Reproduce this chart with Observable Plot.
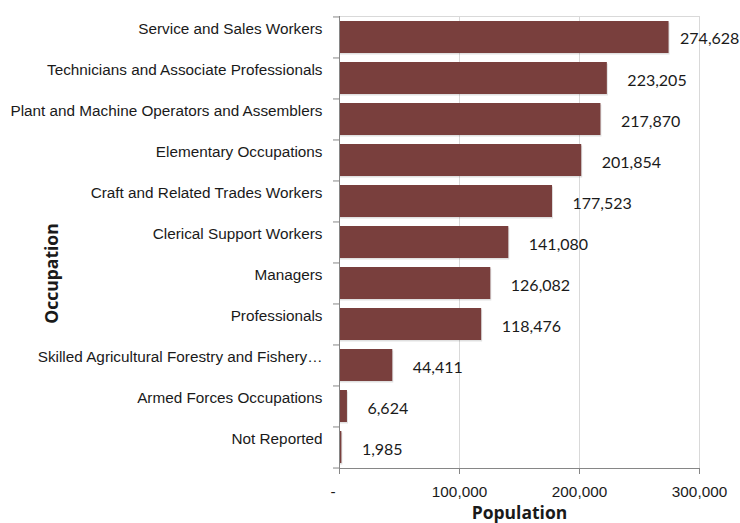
<!DOCTYPE html>
<html><head><meta charset="utf-8">
<script src="https://cdn.jsdelivr.net/npm/d3@7"></script>
<script src="https://cdn.jsdelivr.net/npm/@observablehq/plot@0.6"></script>
<style>body{margin:0;background:#fff}</style>
</head><body><div id="chart"></div>
<script>
const occupations = [
  "Service and Sales Workers",
  "Technicians and Associate Professionals",
  "Plant and Machine Operators and Assemblers",
  "Elementary Occupations",
  "Craft and Related Trades Workers",
  "Clerical Support Workers",
  "Managers",
  "Professionals",
  "Skilled Agricultural Forestry and Fishery…",
  "Armed Forces Occupations",
  "Not Reported"
];
const population = [274628, 223205, 217870, 201854, 177523, 141080, 126082, 118476, 44411, 6624, 1985];
const xTicks = [0, 100000, 200000, 300000];
const xTitle = "Population";
const yTitle = "Occupation";

const data = occupations.map((o, i) => ({occupation: o, population: population[i]}));
const W = 740, H = 523, mt = 16, mb = 55, ml = 339, mr = 41;
const step = (H - mt - mb) / occupations.length;
const fmt = d3.format(",");
const maxPop = d3.max(population);
const labelFont = "Lato, 'Open Sans', sans-serif";
const titleFont = "'Open Sans', Lato, sans-serif";

const chart = Plot.plot({
  width: W, height: H,
  marginTop: mt, marginBottom: mb, marginLeft: ml, marginRight: mr,
  style: {fontFamily: "'Liberation Sans', Arial, sans-serif", fontSize: "15.3px", color: "#1a1a1a", background: "#fff"},
  x: {domain: [0, 300000]},
  y: {domain: occupations, paddingInner: 0.22, paddingOuter: 0.11},
  marks: [
    Plot.gridX(xTicks.slice(1, -1), {stroke: "#d9d9d9", strokeOpacity: 1}),
    Plot.frame({stroke: "#d9d9d9"}),
    Plot.barX(data, {x: "population", y: "occupation", fill: "#000", fillOpacity: 0.12, dx: 1, dy: 1.5}),
    Plot.barX(data, {x: "population", y: "occupation", fill: "#793F3D"}),
    Plot.frame({anchor: "left", stroke: "#868686"}),
    Plot.frame({anchor: "bottom", stroke: "#868686"}),
    Plot.axisX({ticks: xTicks, tickSize: 6, tickPadding: 12, stroke: "#868686",
      tickFormat: d => d === 0 ? "-\u00a0\u00a0\u00a0" : fmt(d), label: null, fill: "#1a1a1a"}),
    Plot.axisY({tickSize: 0, tickPadding: 17, dy: -8, label: null, fill: "#1a1a1a"}),
    Plot.axisY({tickSize: 6, tickFormat: () => "", dy: -step / 2, stroke: "#868686", label: null}),
    Plot.axisY({ticks: occupations.slice(-1), tickSize: 6, tickFormat: () => "", dy: step / 2, stroke: "#868686", label: null}),
    Plot.text(data.filter(d => d.population !== maxPop), {x: "population", y: "occupation", text: d => fmt(d.population),
      textAnchor: "start", dx: 20, dy: 2, fontFamily: labelFont, fontSize: 16, fill: "#1a1a1a"}),
    Plot.text(data.filter(d => d.population === maxPop), {x: "population", y: "occupation", text: d => fmt(d.population),
      textAnchor: "start", dx: 11, dy: 1, fontFamily: labelFont, fontSize: 16, fill: "#1a1a1a"}),
    Plot.text([xTitle], {frameAnchor: "bottom", textAnchor: "middle", dy: 50, fontFamily: titleFont, fontWeight: "bold", fontSize: 17.5, fill: "#1a1a1a"}),
    Plot.text([yTitle], {frameAnchor: "left", textAnchor: "middle", dx: -287, dy: 31, rotate: -90, fontFamily: titleFont, fontWeight: "bold", fontSize: 17.5, fill: "#1a1a1a"})
  ]
});
document.getElementById("chart").append(chart);
</script>
</body></html>
